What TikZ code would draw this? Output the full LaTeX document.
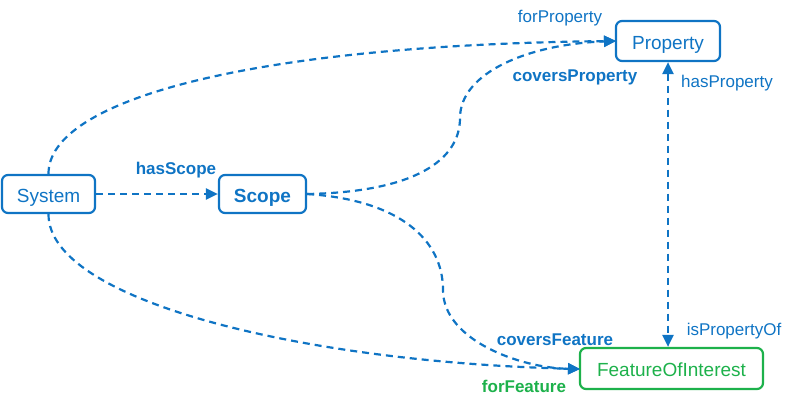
\documentclass[tikz,border=0pt]{standalone}
\usepackage{fontspec}
\setmainfont{Liberation Sans}
\usetikzlibrary{arrows.meta}
\definecolor{owlblue}{HTML}{0F74C4}
\definecolor{owlgreen}{HTML}{1DB14B}
\tikzset{
  box/.style={draw=owlblue, text=owlblue, line width=2.2pt, rounded corners=6pt, font=\fontsize{19}{22}\selectfont, inner sep=0pt, text height=17pt, text depth=1pt},
  gbox/.style={box, draw=owlgreen, text=owlgreen},
  tip/.style={Triangle[length=12pt,width=11pt]},
  link/.style={draw=owlblue, line width=2.2pt, dash pattern=on 7pt off 5pt, -{Triangle[length=12pt,width=11pt]}},
  lab/.style={text=owlblue, font=\fontsize{17}{20}\selectfont, inner sep=0pt},
  blab/.style={lab, font=\fontsize{17}{20}\selectfont\bfseries},
}
\begin{document}
\begin{tikzpicture}[x=1pt,y=-1pt]
\useasboundingbox (0,0) rectangle (800,407);
\node[box, minimum width=93pt, minimum height=38pt] (sys) at (48.5,194) {System};
\node[box, minimum width=87pt, minimum height=38pt, font=\fontsize{19}{22}\selectfont\bfseries] (scope) at (262.5,194) {Scope};
\node[box, minimum width=104pt, minimum height=40pt] (prop) at (668,41) {Property};
\node[gbox, minimum width=183pt, minimum height=41pt] (foi) at (671.5,368.5) {FeatureOfInterest};

\coordinate (pin) at (616,41);
\coordinate (fin) at (580,369);

\draw[link] (sys.east) -- (scope.west);
\draw[link] (sys.north) .. controls (48,100) and (250,45) .. (pin);
\draw[link] (scope.east) .. controls (415,192) and (460,160) .. (460,118) .. controls (460,72) and (530,44) .. (pin);
\draw[link] (scope.east) .. controls (400,200) and (443,240) .. (443,290) .. controls (443,340) and (520,368) .. (fin);
\draw[link] (sys.south) .. controls (48,300) and (300,362) .. (fin);
\draw[link, {Triangle[length=12pt,width=11pt]}-{Triangle[length=12pt,width=11pt]}] (prop.south) -- (prop.south |- foi.north);

\node[lab] (l1) at (560,18) {forProperty};
\node[blab] (l2) at (575,77) {coversProperty};
\node[blab] (l3) at (176,170) {hasScope};
\node[lab] (l4) at (727,83) {hasProperty};
\node[lab] (l5) at (734,331) {isPropertyOf};
\node[blab] (l6) at (555,340) {coversFeature};
\node[blab, text=owlgreen] (l7) at (524,386) {forFeature};
\end{tikzpicture}
\end{document}
